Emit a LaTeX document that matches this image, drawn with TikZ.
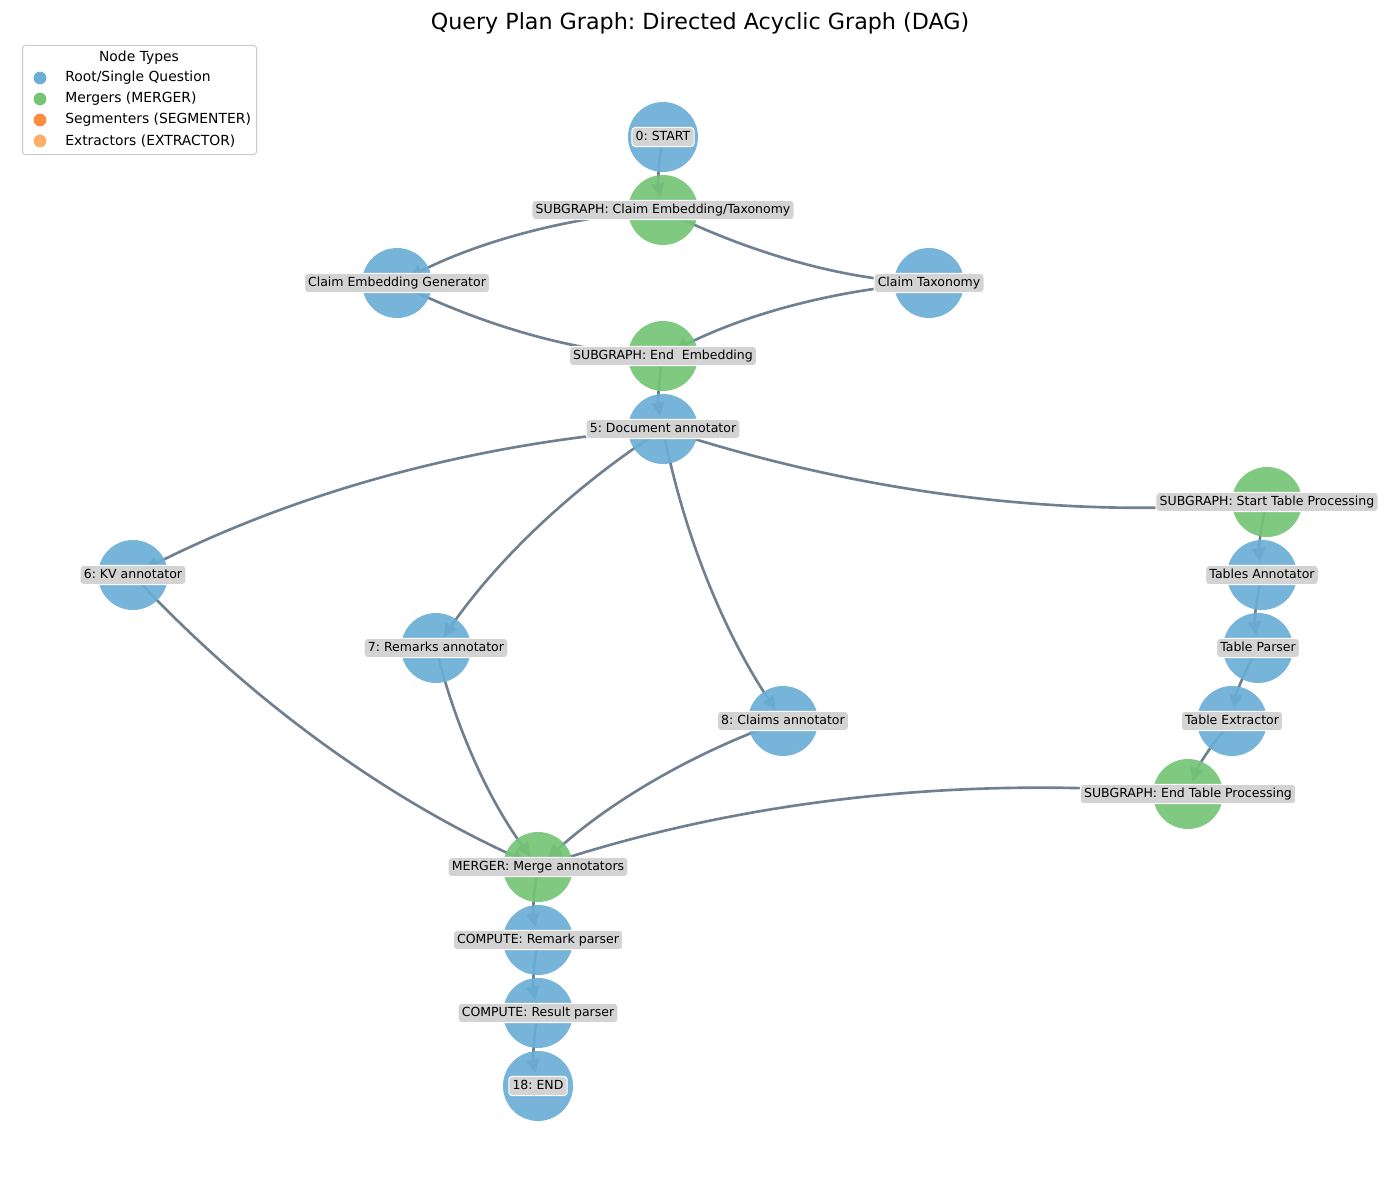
\documentclass[tikz,border=0pt]{standalone}
\usepackage{fontspec}
\setmainfont{DejaVu Sans}
\usetikzlibrary{calc,arrows.meta}
\frenchspacing

\definecolor{qblue}{HTML}{6BAED6}
\definecolor{qgreen}{HTML}{74C476}
\definecolor{qorange}{HTML}{FD8D3C}
\definecolor{qlorange}{HTML}{FDAE6B}
\definecolor{qedge}{HTML}{708090}
\definecolor{qlabel}{HTML}{D3D3D3}
\definecolor{qframe}{HTML}{CCCCCC}

\pgfdeclarelayer{edgelayer}
\pgfsetlayers{edgelayer,main}

% quadratic arc between two node centres (arc3, rad = 0.1), tip stopping inside the target
\newcommand\dagedge[2]{%
  \coordinate (ctl) at ($(#1.center)!0.5!(#2.center)!0.2!-90:(#2.center)$);
  \draw[flow] (#1.center) .. controls ($(#1.center)!2/3!(ctl)$) and ($(#2.center)!2/3!(ctl)$) .. (#2.center);
}

\begin{document}
\begin{tikzpicture}[x=0.72pt,y=-0.72pt,
  dot/.style={circle,minimum size=50.4pt,inner sep=0pt,fill opacity=0.92},
  rootdot/.style={dot,fill=qblue},
  mergedot/.style={dot,fill=qgreen},
  tag/.style={fill=qlabel,draw=white,line width=0.72pt,rounded corners=2.5pt,
    inner xsep=2.7pt,inner ysep=2.7pt,text height=6.6pt,text depth=1.8pt,
    font=\fontsize{9}{11}\selectfont},
  flow/.style={draw=qedge,line width=1.9pt,shorten >=9.4pt,
    -{Triangle[length=10pt,width=9.5pt]}},
  legdot/.style={circle,minimum size=9.2pt,inner sep=0pt},
  legtext/.style={anchor=west,inner sep=0pt,font=\fontsize{10}{12}\selectfont}
]
\useasboundingbox (0,0) rectangle (1400,1200);

% title
\node[font=\fontsize{16}{19}\selectfont] (title) at (700,23) {Query Plan Graph: Directed Acyclic Graph (DAG)};

% nodes
\node[rootdot]  (start)  at (663,137) {};
\node[mergedot] (sgcet)  at (663,210) {};
\node[rootdot]  (ceg)    at (397,283) {};
\node[rootdot]  (ctax)   at (929,283) {};
\node[mergedot] (sgee)   at (663,356) {};
\node[rootdot]  (doc)    at (663,429) {};
\node[rootdot]  (kv)     at (133,575) {};
\node[rootdot]  (rem)    at (436,648) {};
\node[rootdot]  (clm)    at (783,721) {};
\node[mergedot] (sgst)   at (1267,502) {};
\node[rootdot]  (tann)   at (1262,575) {};
\node[rootdot]  (tpar)   at (1258,648) {};
\node[rootdot]  (text)   at (1232,721) {};
\node[mergedot] (sget)   at (1188,794) {};
\node[mergedot] (merge)  at (538,867) {};
\node[rootdot]  (rpar)   at (538,940) {};
\node[rootdot]  (respar) at (538,1013) {};
\node[rootdot]  (finish) at (538,1086) {};

% connectors
\begin{pgfonlayer}{edgelayer}
\dagedge{start}{sgcet}
\dagedge{sgcet}{ceg}
\dagedge{sgcet}{ctax}
\dagedge{ceg}{sgee}
\dagedge{ctax}{sgee}
\dagedge{sgee}{doc}
\dagedge{doc}{kv}
\dagedge{doc}{rem}
\dagedge{doc}{clm}
\dagedge{doc}{sgst}
\dagedge{sgst}{tann}
\dagedge{tann}{tpar}
\dagedge{tpar}{text}
\dagedge{text}{sget}
\dagedge{kv}{merge}
\dagedge{rem}{merge}
\dagedge{clm}{merge}
\dagedge{sget}{merge}
\dagedge{merge}{rpar}
\dagedge{rpar}{respar}
\dagedge{respar}{finish}
\end{pgfonlayer}

% labels
\node[tag] (startl)  at (start)  {0: START};
\node[tag] (sgcetl)  at (sgcet)  {SUBGRAPH: Claim Embedding/Taxonomy};
\node[tag] (cegl)    at (ceg)    {Claim Embedding Generator};
\node[tag] (ctaxl)   at (ctax)   {Claim Taxonomy};
\node[tag] (sgeel)   at (sgee)   {SUBGRAPH: End\ \ Embedding};
\node[tag] (docl)    at (doc)    {5: Document annotator};
\node[tag] (kvl)     at (kv)     {6: KV annotator};
\node[tag] (reml)    at (rem)    {7: Remarks annotator};
\node[tag] (clml)    at (clm)    {8: Claims annotator};
\node[tag] (sgstl)   at (sgst)   {SUBGRAPH: Start Table Processing};
\node[tag] (tannl)   at (tann)   {Tables Annotator};
\node[tag] (tparl)   at (tpar)   {Table Parser};
\node[tag] (textl)   at (text)   {Table Extractor};
\node[tag] (sgetl)   at (sget)   {SUBGRAPH: End Table Processing};
\node[tag] (mergel)  at (merge)  {MERGER: Merge annotators};
\node[tag] (rparl)   at (rpar)   {COMPUTE: Remark parser};
\node[tag] (resparl) at (respar) {COMPUTE: Result parser};
\node[tag] (finishl) at (finish) {18: END};

% legend
\node[draw=qframe,fill=white,fill opacity=0.8,draw opacity=1,line width=0.72pt,
  rounded corners=2pt,minimum width=168.5pt,minimum height=78.5pt,inner sep=0pt,anchor=north west]
  (legbox) at (22,45) {};
\node[font=\fontsize{10}{12}\selectfont,inner sep=0pt] (legtitle) at (139,58) {Node Types};
\node[legdot,fill=qblue]    (lg1) at (40,78)  {};
\node[legdot,fill=qgreen]   (lg2) at (40,99)  {};
\node[legdot,fill=qorange]  (lg3) at (40,120) {};
\node[legdot,fill=qlorange] (lg4) at (40,141) {};
\node[legtext] (lt1) at (65,78)  {Root/Single Question};
\node[legtext] (lt2) at (65,99)  {Mergers (MERGER)};
\node[legtext] (lt3) at (65,120) {Segmenters (SEGMENTER)};
\node[legtext] (lt4) at (65,141) {Extractors (EXTRACTOR)};
\end{tikzpicture}
\end{document}
